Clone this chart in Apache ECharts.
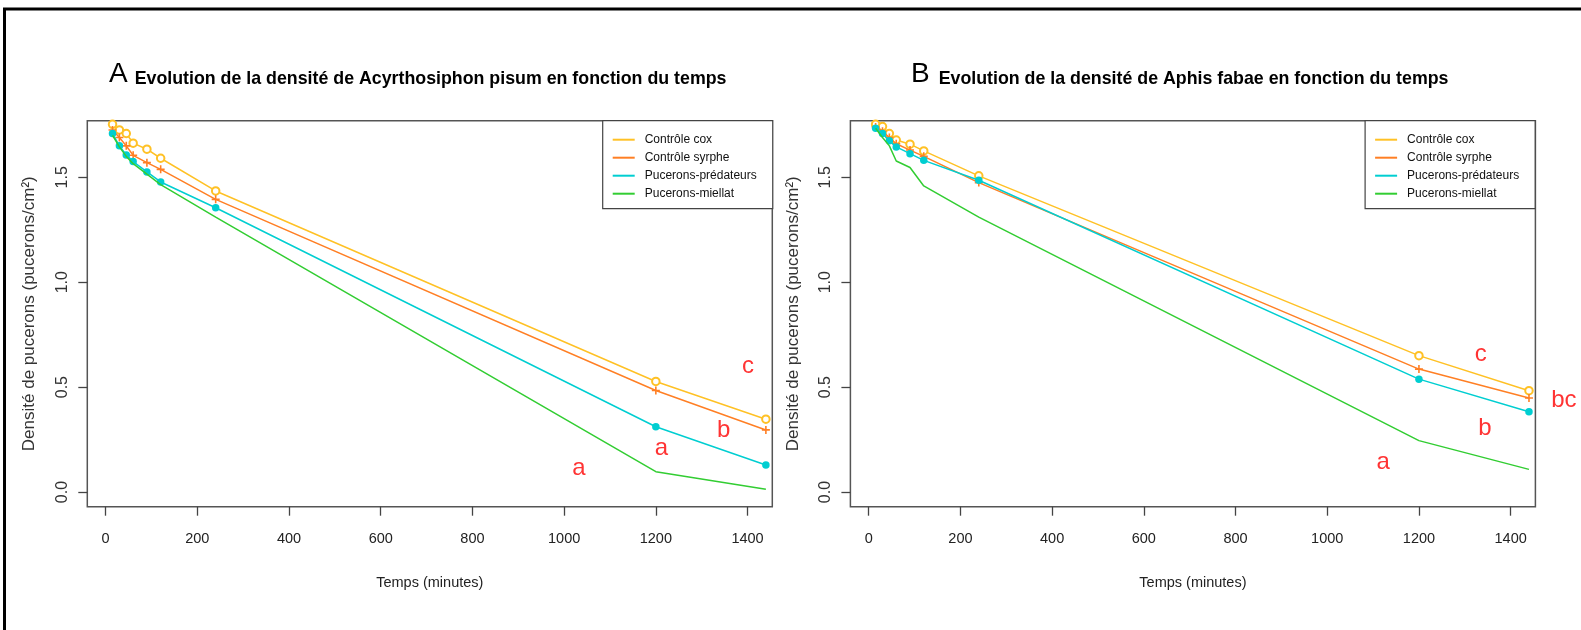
<!DOCTYPE html>
<html><head><meta charset="utf-8">
<script src="https://cdn.jsdelivr.net/npm/echarts@6/dist/echarts.min.js"></script>
<style>html,body{margin:0;padding:0;background:#fff}#c{width:1581px;height:630px}</style>
</head><body><div id="c"></div>
<script>
// ---- data ----
const seriesNames = ['Contrôle cox', 'Contrôle syrphe', 'Pucerons-prédateurs', 'Pucerons-miellat'];
const times = [15, 30, 45, 60, 90, 120, 240, 1200, 1440];
// Panel A : Acyrthosiphon pisum
const A_cox      = [1.753, 1.726, 1.709, 1.663, 1.634, 1.591, 1.435, 0.527, 0.347];
const A_syrphe   = [1.726, 1.690, 1.650, 1.605, 1.570, 1.538, 1.395, 0.484, 0.296];
const A_pred     = [1.709, 1.650, 1.607, 1.575, 1.526, 1.478, 1.355, 0.311, 0.129];
const A_miellat  = [1.700, 1.645, 1.600, 1.565, 1.515, 1.465, 1.310, 0.097, 0.013];
// Panel B : Aphis fabae
const B_cox      = [1.753, 1.742, 1.709, 1.678, 1.658, 1.626, 1.507, 0.650, 0.483];
const B_syrphe   = [1.740, 1.720, 1.690, 1.660, 1.630, 1.600, 1.475, 0.586, 0.448];
const B_pred     = [1.734, 1.709, 1.674, 1.645, 1.613, 1.581, 1.486, 0.538, 0.383];
const B_miellat  = [1.734, 1.690, 1.650, 1.578, 1.547, 1.459, 1.310, 0.245, 0.108];
// significance letters
const A_letters = ['c', 'b', 'a', 'a'];
const A_letX    = [1401, 1348, 1212, 1032];
const A_letY    = [0.597, 0.295, 0.208, 0.114];
const B_letters = ['c', 'bc', 'b', 'a'];
const B_letX    = [1335, 1516, 1344, 1122];
const B_letY    = [0.658, 0.439, 0.305, 0.141];
// ticks
const xTicks = [0, 200, 400, 600, 800, 1000, 1200, 1400];
const yTicks = [0, 0.5, 1.0, 1.5];
const titleA = 'Evolution de la densité de Acyrthosiphon pisum en fonction du temps';
const titleB = 'Evolution de la densité de Aphis fabae en fonction du temps';
const xName = 'Temps (minutes)';
const yName = 'Densité de pucerons (pucerons/cm²)';

// ---- styles ----
const colors = ['#FFC125', '#FF7F24', '#00CED1', '#32CD32'];
const SANS = '"Liberation Sans", Arial, sans-serif';
const plusPath = 'path://M4,0h2v4h4v2h-4v4h-2v-4h-4v-2h4z';
const symbols = [
  {symbol: 'emptyCircle', symbolSize: 7.5},
  {symbol: plusPath, symbolSize: 8},
  {symbol: 'circle', symbolSize: 7.5},
  {symbol: 'none', symbolSize: 0}
];

const zip = (xs, ys) => xs.map((x, i) => [x, ys[i]]);

function xAxisFor(gi) {
  return {
    gridIndex: gi, type: 'value', min: -40, max: 1454,
    name: xName, nameLocation: 'middle', nameGap: 69,
    nameTextStyle: {fontFamily: SANS, fontSize: 14.5, color: '#222'},
    axisLine: {show: false, onZero: false},
    axisTick: {show: true, length: 9, lineStyle: {color: '#444', width: 1.3}, customValues: xTicks},
    axisLabel: {customValues: xTicks, margin: 25, fontFamily: SANS, fontSize: 14.5, color: '#222',
      formatter: v => String(v)},
    splitLine: {show: false}
  };
}
function yAxisFor(gi) {
  return {
    gridIndex: gi, type: 'value', min: -0.070, max: 1.770,
    name: yName, nameLocation: 'middle', nameGap: 49,
    nameTextStyle: {fontFamily: SANS, fontSize: 17, color: '#333'},
    axisLine: {show: false, onZero: false},
    axisTick: {show: true, length: 9, lineStyle: {color: '#444', width: 1.3}, customValues: yTicks},
    axisLabel: {customValues: yTicks, rotate: 90, margin: 17, fontFamily: SANS, fontSize: 16, color: '#333',
      formatter: v => Number(v).toFixed(1)},
    splitLine: {show: false}
  };
}

function lineSeries(gi, data) {
  return data.map((ys, i) => ({
    name: seriesNames[i], type: 'line', xAxisIndex: gi, yAxisIndex: gi,
    data: zip(times, ys), symbol: symbols[i].symbol, symbolSize: symbols[i].symbolSize,
    showSymbol: symbols[i].symbol !== 'none',
    lineStyle: {color: colors[i], width: 1.5}, itemStyle: {color: colors[i], borderWidth: 1.3},
    emphasis: {disabled: true}, animation: false, z: 2 + i
  }));
}
function letterSeries(gi, letters, xs, ys) {
  return {
    type: 'scatter', xAxisIndex: gi, yAxisIndex: gi, symbolSize: 0, clip: false,
    data: letters.map((t, i) => ({name: t, value: [xs[i], ys[i]]})),
    label: {show: true, position: 'inside', formatter: p => p.name,
      fontFamily: SANS, fontSize: 24, color: '#FF0000'},
    emphasis: {disabled: true}, animation: false, z: 10
  };
}

function legendFor(left) {
  return {
    left: left, top: 120.7, orient: 'vertical', icon: 'rect', itemWidth: 22, itemHeight: 2,
    itemGap: 0, padding: [10, 16, 6, 10], borderColor: '#444', borderWidth: 1.2, backgroundColor: '#fff',
    textStyle: {fontFamily: SANS, fontSize: 12, lineHeight: 18, color: '#111', padding: [0, 0, 0, 5]},
    data: seriesNames, selectedMode: false, z: 20
  };
}

function titleFor(letter, text, left, gap) {
  return {
    text: '{a|' + letter + '}{b|' + text + '}', left: left, top: 55,
    textStyle: {rich: {
      a: {fontFamily: SANS, fontSize: 28, fontWeight: 'normal', color: '#000', padding: [0, gap, 0, 0], verticalAlign: 'bottom'},
      b: {fontFamily: SANS, fontSize: 17.8, fontWeight: 'bold', color: '#000', verticalAlign: 'bottom'}
    }}
  };
}

const chart = echarts.init(document.getElementById('c'), null, {renderer: 'canvas'});
chart.setOption({
  animation: false,
  backgroundColor: '#fff',
  title: [titleFor('A', titleA, 104, 7), titleFor('B', titleB, 906, 9)],
  legend: [legendFor(602.7), legendFor(1365.1)],
  grid: [
    {left: 87.3, top: 120.7, width: 685, height: 386, show: true, borderColor: '#555', borderWidth: 1.5, backgroundColor: 'transparent'},
    {left: 850.4, top: 120.7, width: 685, height: 386, show: true, borderColor: '#555', borderWidth: 1.5, backgroundColor: 'transparent'}
  ],
  xAxis: [xAxisFor(0), xAxisFor(1)],
  yAxis: [yAxisFor(0), yAxisFor(1)],
  graphic: [{type: 'rect', shape: {x: 4.5, y: 9, width: 1700, height: 800}, style: {fill: 'none', stroke: '#000', lineWidth: 3}, silent: true, z: 100}],
  series: [
    ...lineSeries(0, [A_cox, A_syrphe, A_pred, A_miellat]),
    ...lineSeries(1, [B_cox, B_syrphe, B_pred, B_miellat]),
    letterSeries(0, A_letters, A_letX, A_letY),
    letterSeries(1, B_letters, B_letX, B_letY)
  ]
});
</script></body></html>
